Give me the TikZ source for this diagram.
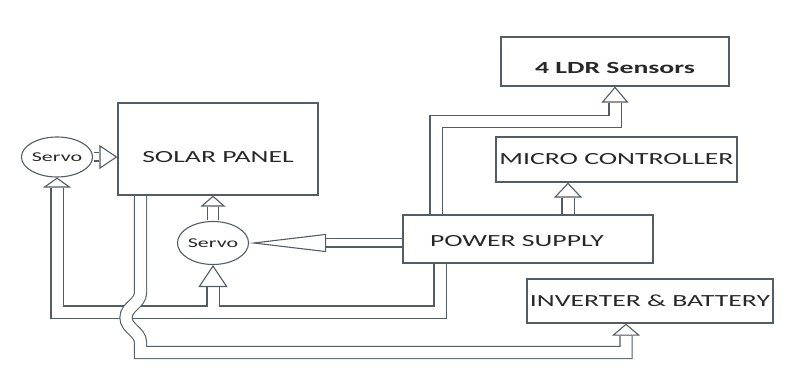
\documentclass[tikz,border=0pt]{standalone}
\usepackage{fontspec}
\setmainfont{Carlito}[FakeStretch=1.63]
\usepackage{tikz}
\usetikzlibrary{positioning, arrows.meta, shapes.geometric}
\definecolor{linecol}{RGB}{84,92,100}
\definecolor{textcol}{RGB}{40,40,40}

\begin{document}
\begin{tikzpicture}[x=1pt, y=1pt,
    box/.style 2 args={draw=linecol, line width=1.2pt, minimum width=#1, minimum height=#2, inner sep=0pt, text=textcol, font=\fontsize{17}{19}\selectfont},
    lbl/.style={text=textcol, font=\fontsize{17}{19}\selectfont, inner sep=0pt},
    servo/.style 2 args={draw=linecol, ellipse, line width=1.1pt, minimum width=#1, minimum height=#2, inner sep=0pt, text=textcol, font=\fontsize{13.5}{15}\selectfont},
    pipe/.style={draw=linecol, line width=1.1pt, double=white, double distance=#1, shorten <=0.6pt},
    ahead/.style 2 args={draw=white, line width=1.1pt, -{Triangle[open, color=linecol, length=#1, width=#2]}}
]
\useasboundingbox (0,0) rectangle (786,380);

\node[box={200pt}{92pt}, label={[lbl, yshift=-8pt]center:SOLAR PANEL}] (solar) at (218,231) {};
\node[box={228pt}{49pt}, label={[lbl, font=\fontsize{17}{19}\selectfont\bfseries, yshift=-6.5pt]center:4 LDR Sensors}] (ldr) at (615,318.5) {};
\node[box={241pt}{45pt}] (mcu) at (616.5,220.5) {MICRO CONTROLLER};
\node[box={250pt}{48pt}, label={[lbl, xshift=-11pt, yshift=-2pt]center:POWER SUPPLY}] (psu) at (528,141) {};
\node[box={246pt}{44pt}] (inv) at (650,79) {INVERTER \& BATTERY};
\node[servo={56pt}{40pt}] (servoL) at (57,223) {Servo};
\node[servo={62pt}{43pt}] (servoB) at (213,137) {Servo};

\coordinate (ja) at (0,68);
\coordinate (jb) at (0,27.5);
\coordinate (jc) at (0,258.5);
\coordinate (mh) at ([xshift=-48.5pt]mcu.south);

% supply to both servos
\draw[pipe=11pt] ([xshift=-88pt]psu.south) |- (servoL.south |- ja) -- ([yshift=-10pt]servoL.south)
    (servoB.south |- ja) -- ([yshift=-22pt]servoB.south);
\draw[ahead={10pt}{28pt}] ([yshift=-12pt]servoL.south) -- (servoL.south);
\draw[ahead={22pt}{29pt}] ([yshift=-24pt]servoB.south) -- (servoB.south);

% panel to inverter, crossing over
\draw[pipe=11pt] ([xshift=-77.5pt]solar.south) -- ++(0,-97) to[out=-90, in=90] ++(-14.5,-25)
    to[out=-90, in=90] ++(14.5,-25) |- ([xshift=-24pt]inv.south |- jb) -- ([xshift=-24pt, yshift=-12pt]inv.south);
\draw[ahead={12pt}{28pt}] ([xshift=-24pt, yshift=-14pt]inv.south) -- ([xshift=-24pt]inv.south);

% supply to sensors
\draw[pipe=11pt] ([xshift=-92pt]psu.north) |- (ldr.south |- jc) -- ([yshift=-16pt]ldr.south);
\draw[ahead={16pt}{27pt}] ([yshift=-18pt]ldr.south) -- (ldr.south);

% supply to controller
\draw[pipe=11pt] (psu.north -| mh) -- ([yshift=-15pt]mh);
\draw[ahead={15pt}{28pt}] ([yshift=-17pt]mh) -- (mh);

% supply to lower servo
\draw[pipe=7pt] (psu.west |- servoB.east) -- ([xshift=77pt]servoB.east);
\draw[ahead={77pt}{18pt}] ([xshift=79pt]servoB.east) -- (servoB.east);

% servos to panel
\draw[pipe=10pt] (servoB.north) -- ([yshift=-11pt]servoB.north |- solar.south);
\draw[ahead={11pt}{25pt}] ([yshift=-13pt]servoB.north |- solar.south) -- (servoB.north |- solar.south);
\draw[pipe=7pt] (servoL.east) -- ([xshift=-18pt]solar.west |- servoL.east);
\draw[ahead={18pt}{24pt}] ([xshift=-20pt]solar.west |- servoL.east) -- (solar.west |- servoL.east);
\end{tikzpicture}
\end{document}
